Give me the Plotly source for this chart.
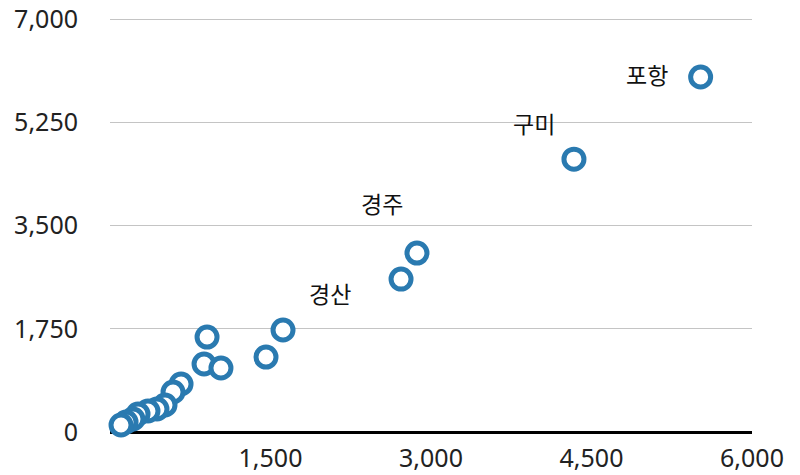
import plotly.graph_objects as go

# data (x, y)
x_vals = [5520, 4336, 2869, 2720, 1617, 1458, 907, 879, 1037, 664, 589, 514, 439, 355, 262, 215, 150, 103]
y_vals = [6020, 4627, 3034, 2593, 1729, 1271, 1610, 1153, 1085, 814, 678, 458, 390, 356, 305, 220, 170, 119]

label_names = ["포항", "구미", "경주", "경산"]
label_index = [0, 1, 2, 3]
label_xshift = [-54, -40, -35, -71]
label_yshift = [3, 36, 50, -14]

x_ticks = [1500, 3000, 4500, 6000]
y_ticks = [0, 1750, 3500, 5250, 7000]

FONT = "Noto Sans"
KFONT = "Noto Sans CJK KR"
COLOR = "#2a7ab0"

fig = go.Figure()
fig.add_trace(go.Scatter(
    x=x_vals, y=y_vals, mode="markers",
    marker=dict(size=20, color="white", line=dict(color=COLOR, width=5)),
    hoverinfo="skip", showlegend=False, cliponaxis=False,
))

for name, i, xs, ys in zip(label_names, label_index, label_xshift, label_yshift):
    fig.add_annotation(x=x_vals[i], y=y_vals[i], text=name, showarrow=False,
                       xshift=xs, yshift=ys,
                       font=dict(family=KFONT, size=23, color="#111111"))

fig.update_layout(
    width=800, height=475,
    margin=dict(l=102, r=56, t=10, b=51),
    paper_bgcolor="white", plot_bgcolor="white",
    font=dict(family=FONT, size=25, color="#222222"),
)
fig.update_xaxes(range=[0, 6000], tickvals=x_ticks, tickformat=",d",
                 showgrid=False, zeroline=False, showline=False,
                 ticks="", ticklabelstandoff=9, automargin=False,
                 ticklabeloverflow="allow")
fig.update_yaxes(range=[0, 7020], tickvals=y_ticks, tickformat=",d",
                 showgrid=True, gridcolor="#c4c4c4", gridwidth=1,
                 zeroline=True, zerolinecolor="black", zerolinewidth=3,
                 showline=False, ticks="", ticklabelstandoff=31, automargin=False,
                 ticklabeloverflow="allow")

fig.write_html("out.html")
